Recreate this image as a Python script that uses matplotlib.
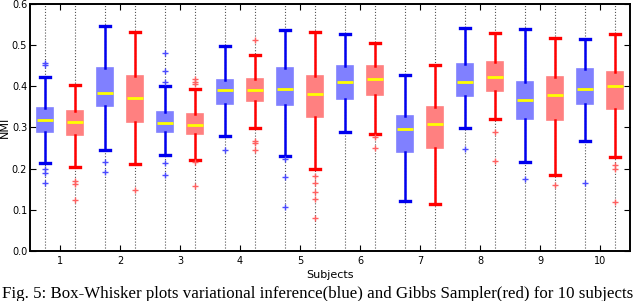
import matplotlib
matplotlib.use('Agg')
import matplotlib.pyplot as plt
from matplotlib.ticker import FormatStrFormatter

subjects = [1, 2, 3, 4, 5, 6, 7, 8, 9, 10]

# variational inference (blue)
vi_lo  = [0.2125, 0.245, 0.232, 0.280, 0.231, 0.2885, 0.122, 0.299, 0.216, 0.2675]
vi_q1  = [0.288, 0.3515, 0.2885, 0.3556, 0.3547, 0.3685, 0.240, 0.375, 0.320, 0.357]
vi_med = [0.3176, 0.384, 0.311, 0.390, 0.3935, 0.409, 0.295, 0.411, 0.366, 0.3927]
vi_q3  = [0.346, 0.444, 0.338, 0.4145, 0.443, 0.4485, 0.3265, 0.4525, 0.411, 0.4404]
vi_hi  = [0.4226, 0.546, 0.400, 0.497, 0.536, 0.526, 0.426, 0.542, 0.5374, 0.514]
vi_fl  = [[0.456, 0.451, 0.1996, 0.190, 0.164],
          [0.2165, 0.192],
          [0.481, 0.4356, 0.410, 0.214, 0.185],
          [0.244],
          [0.222, 0.1786, 0.107],
          [],
          [],
          [0.2465],
          [0.1745],
          [0.165]]

# Gibbs sampler (red)
gs_lo  = [0.203, 0.2117, 0.2206, 0.2974, 0.1996, 0.285, 0.114, 0.320, 0.184, 0.228]
gs_q1  = [0.281, 0.313, 0.283, 0.3636, 0.3256, 0.3774, 0.251, 0.3886, 0.3168, 0.344]
gs_med = [0.3127, 0.371, 0.3047, 0.3895, 0.380, 0.416, 0.308, 0.422, 0.379, 0.399]
gs_q3  = [0.340, 0.424, 0.332, 0.418, 0.4235, 0.4477, 0.350, 0.4574, 0.421, 0.4347]
gs_hi  = [0.403, 0.530, 0.392, 0.476, 0.531, 0.5035, 0.451, 0.5285, 0.5155, 0.527]
gs_fl  = [[0.171, 0.162, 0.123],
          [0.148],
          [0.418, 0.411, 0.405, 0.215, 0.158],
          [0.5115, 0.268, 0.261, 0.244],
          [0.1826, 0.164, 0.143, 0.126, 0.081],
          [0.276, 0.251],
          [],
          [0.289, 0.219],
          [0.160],
          [0.209, 0.200, 0.118]]


def make_stats(lo, q1, med, q3, hi, fl):
    return [dict(whislo=lo[i], q1=q1[i], med=med[i], q3=q3[i], whishi=hi[i],
                 fliers=fl[i]) for i in range(len(med))]


def draw(ax, stats, pos, color, face, fcol):
    ax.bxp(stats, positions=pos, widths=0.28, capwidths=0.17,
           patch_artist=True, manage_ticks=False,
           boxprops=dict(facecolor=face, edgecolor=face, linewidth=1.2),
           whiskerprops=dict(color=color, linewidth=1.8),
           capprops=dict(color=color, linewidth=2.4),
           medianprops=dict(color='#ffff00', linewidth=2.0),
           flierprops=dict(marker='+', markeredgecolor=fcol, markersize=5,
                           markeredgewidth=1.0, linestyle='none'))


fig = plt.figure(figsize=(6.4, 3.01), dpi=100)
ax = fig.add_axes([0.0469, 0.166, 0.9375, 0.822])

pos_vi = [s - 0.25 for s in subjects]
pos_gs = [s + 0.25 for s in subjects]

for p in pos_vi + pos_gs:
    ax.axvline(p, color='#555555', linestyle=':', linewidth=0.8, zorder=0)

draw(ax, make_stats(vi_lo, vi_q1, vi_med, vi_q3, vi_hi, vi_fl), pos_vi,
     '#0000ee', '#8080ff', '#4a4aff')
draw(ax, make_stats(gs_lo, gs_q1, gs_med, gs_q3, gs_hi, gs_fl), pos_gs,
     '#ff0000', '#ff8080', '#ff6060')

ax.set_xlim(0.5, 10.5)
ax.set_ylim(0.0, 0.6)
ax.set_xticks(subjects)
ax.set_xticklabels([str(s) for s in subjects])
ax.set_yticks([0.0, 0.1, 0.2, 0.3, 0.4, 0.5, 0.6])
ax.yaxis.set_major_formatter(FormatStrFormatter('%.1f'))
ax.tick_params(direction='in', top=True, right=True, labelsize=7,
               length=4, width=0.8)
ax.tick_params(axis='y', pad=2)
for sp in ax.spines.values():
    sp.set_linewidth(1.4)

ax.set_xlabel('Subjects', fontsize=8, labelpad=3)
ax.set_ylabel('NMI', fontsize=8)
ax.yaxis.set_label_coords(-0.033, 0.5)

fig.text(0.003, 0.022, 'Fig. 5: Box-Whisker plots variational inference(blue) and '
         'Gibbs Sampler(red) for 10 subjects', family='Liberation Serif',
         fontsize=12.2, va='center', ha='left')

fig.savefig('out.png', dpi=100)
